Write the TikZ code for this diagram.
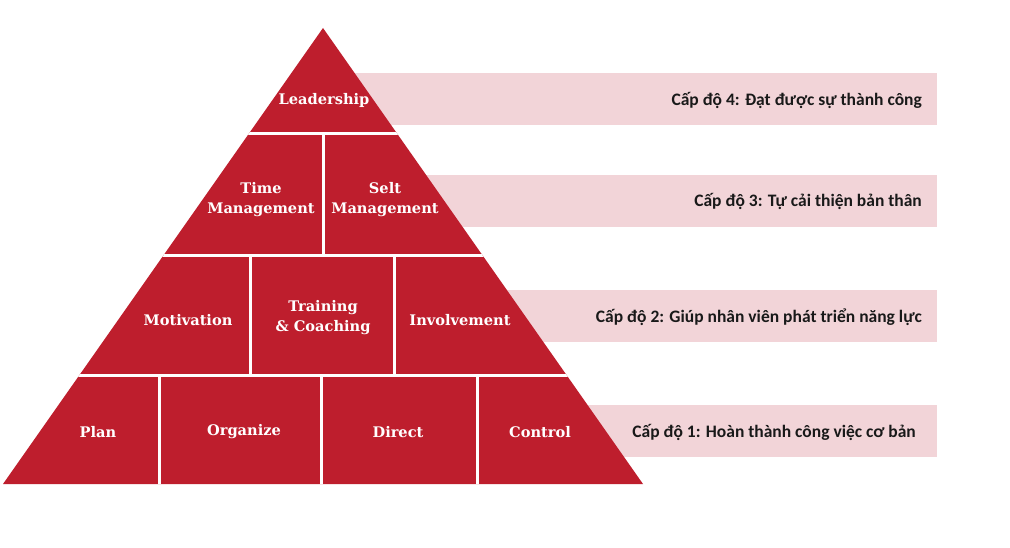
\documentclass[tikz,border=0pt]{standalone}
\usepackage{fontspec}
\setmainfont{Carlito}
\newfontfamily\slabfont{DejaVu Serif}
\definecolor{pyred}{RGB}{190,30,45}
\definecolor{bandpink}{RGB}{242,212,216}
\definecolor{lvltext}{RGB}{25,25,25}
\begin{document}
\begin{tikzpicture}[x=1pt,y=-1pt,
  lbl/.style={text=white,font=\slabfont\bfseries\fontsize{14.6}{20}\selectfont,align=center,inner sep=0pt},
  lvl/.style={anchor=east,font=\bfseries\fontsize{17.5}{20}\selectfont,text=lvltext,inner sep=0pt},
  band/.style={fill=bandpink},
  sep/.style={draw=white,line width=3pt}]
\useasboundingbox[fill=white] (0,0) rectangle (1010,548);
% bands
\fill[band] (300,73) rectangle (937,125);
\fill[band] (400,175) rectangle (937,227);
\fill[band] (480,290) rectangle (937,342);
\fill[band] (560,405) rectangle (937,457);
% pyramid
\coordinate (apex) at (323,28);
\coordinate (bl) at (3,484);
\coordinate (br) at (643,484);
\fill[pyred] (apex) -- (br) -- (bl) -- cycle;
\begin{scope}
  \clip (apex) -- (br) -- (bl) -- cycle;
  \draw[sep] (0,133.5) -- (700,133.5);
  \draw[sep] (0,256) -- (700,256);
  \draw[sep] (0,375.5) -- (700,375.5);
  \draw[sep] (323,133.5) -- (323,256);
  \draw[sep] (250,256) -- (250,375.5);
  \draw[sep] (394,256) -- (394,375.5);
  \draw[sep] (159,375.5) -- (159,490);
  \draw[sep] (321,375.5) -- (321,490);
  \draw[sep] (477,375.5) -- (477,490);
\end{scope}
% pyramid labels
\node[lbl] (leadership) at (324,100) {Leadership};
\node[lbl] (time) at (261,200) {Time\\Management};
\node[lbl] (self) at (385,200) {Selt\\Management};
\node[lbl] (motivation) at (188,320) {Motivation};
\node[lbl] (training) at (323,318) {Training\\\& Coaching};
\node[lbl] (involvement) at (460,320) {Involvement};
\node[lbl] (plan) at (98,432) {Plan};
\node[lbl] (organize) at (244,432) {Organize};
\node[lbl] (direct) at (398,432) {Direct};
\node[lbl] (control) at (540,432) {Control};
% level labels
\node[lvl] (l4) at (922,100) {Cấp độ 4: Đạt được sự thành công};
\node[lvl] (l3) at (922,201) {Cấp độ 3: Tự cải thiện bản thân};
\node[lvl] (l2) at (922,317) {Cấp độ 2: Giúp nhân viên phát triển năng lực};
\node[lvl] (l1) at (916,432) {Cấp độ 1: Hoàn thành công việc cơ bản};
\end{tikzpicture}
\end{document}
